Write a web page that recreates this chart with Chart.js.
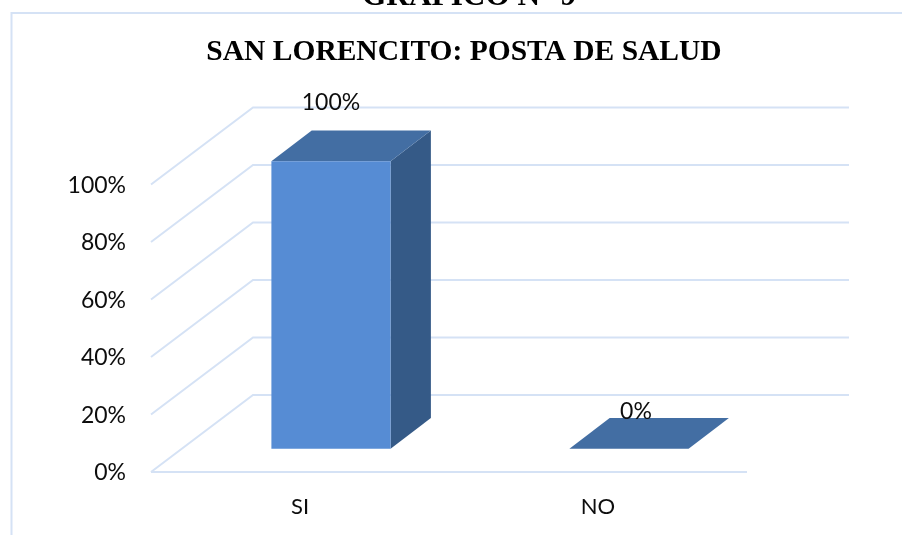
<!DOCTYPE html>
<html>
<head>
<meta charset="utf-8">
<style>
html,body{margin:0;padding:0;background:#fff;overflow:hidden;width:902px;height:535px}
#wrap{position:absolute;left:0;top:0;width:902px;height:535px}
#head{position:absolute;left:362px;top:-23px;font:bold 31.3px "Liberation Serif",serif;color:#000;white-space:nowrap;z-index:2}
</style>
<script src="https://cdn.jsdelivr.net/npm/chart.js@4/dist/chart.umd.min.js"></script>
</head>
<body>
<div id="head">GRAFICO N° 9</div>
<div id="wrap"><canvas id="c" width="902" height="535"></canvas></div>
<script>
const categories = ['SI', 'NO'];
const seriesValues = [100, 0];
const tickValues = [0, 20, 40, 60, 80, 100];
const chartTitle = 'SAN LORENCITO: POSTA DE SALUD';

const GRID = '#d5e2f5';
const DEPTH = {x: 102, y: -77};        // wall depth of the 3D box
const BAR_SHIFT = {x: 31, y: -23.3};   // bars sit part way into the floor
const BAR_DEPTH = {x: 40.3, y: -30.6};
const LABEL_OFFSET = [{x: 0, y: -59}, {x: 7, y: -37}];

function poly(ctx, pts, fill) {
  ctx.beginPath();
  pts.forEach((p, i) => i ? ctx.lineTo(p[0], p[1]) : ctx.moveTo(p[0], p[1]));
  ctx.closePath();
  ctx.fillStyle = fill;
  ctx.fill();
}

const box3d = {
  id: 'box3d',
  beforeDatasetsDraw(chart) {
    const ctx = chart.ctx, y = chart.scales.y, a = chart.chartArea;
    ctx.save();
    // outer frame of the chart
    ctx.strokeStyle = GRID;
    ctx.lineWidth = 2;
    ctx.beginPath();
    ctx.moveTo(11.5, 535); ctx.lineTo(11.5, 13); ctx.lineTo(902, 13);
    ctx.stroke();
    // walls and floor, from the value axis
    ctx.lineWidth = 2;
    tickValues.forEach(v => {
      const py = y.getPixelForValue(v);
      ctx.beginPath();
      ctx.moveTo(a.left, py);
      ctx.lineTo(a.left + DEPTH.x, py + DEPTH.y);
      ctx.lineTo(a.right + DEPTH.x, py + DEPTH.y);
      ctx.stroke();
    });
    const py0 = y.getPixelForValue(0);
    ctx.beginPath();
    ctx.moveTo(a.left, py0); ctx.lineTo(a.right, py0); ctx.stroke();
    // side and top faces of each bar
    chart.getDatasetMeta(0).data.forEach(el => {
      const l = el.x - el.width / 2 + BAR_SHIFT.x, r = el.x + el.width / 2 + BAR_SHIFT.x;
      const t = el.y + BAR_SHIFT.y, b = el.base + BAR_SHIFT.y;
      if (b - t > 0.5) {
        poly(ctx, [[r, t], [r + BAR_DEPTH.x, t + BAR_DEPTH.y], [r + BAR_DEPTH.x, b + BAR_DEPTH.y], [r, b]], '#355a87');
      }
      poly(ctx, [[l, t], [l + BAR_DEPTH.x, t + BAR_DEPTH.y], [r + BAR_DEPTH.x, t + BAR_DEPTH.y], [r, t]], '#436ea3');
    });
    ctx.restore();
    // the front faces are the library's own bars, moved onto the bar plane
    ctx.save();
    ctx.translate(BAR_SHIFT.x, BAR_SHIFT.y);
  },
  afterDatasetsDraw(chart) {
    const ctx = chart.ctx;
    ctx.restore();
    ctx.save();
    ctx.font = '23px Lato, sans-serif';
    ctx.fillStyle = '#0d0d0d';
    ctx.textAlign = 'center';
    ctx.textBaseline = 'middle';
    chart.getDatasetMeta(0).data.forEach((el, i) => {
      ctx.fillText(seriesValues[i] + '%',
        el.x + BAR_SHIFT.x + LABEL_OFFSET[i].x,
        el.y + BAR_SHIFT.y + LABEL_OFFSET[i].y);
    });
    ctx.restore();
  }
};

new Chart(document.getElementById('c'), {
  type: 'bar',
  data: {
    labels: categories,
    datasets: [{
      data: seriesValues,
      backgroundColor: '#568cd4',
      borderWidth: 0,
      barPercentage: 0.5,
      categoryPercentage: 0.8,
      clip: false
    }]
  },
  plugins: [box3d],
  options: {
    responsive: false,
    animation: false,
    events: [],
    layout: {padding: {left: 26, right: 0, top: 0, bottom: 0}},
    plugins: {
      legend: {display: false},
      tooltip: {enabled: false},
      title: {
        display: true,
        text: chartTitle,
        color: '#000',
        font: {family: '"Liberation Serif", serif', size: 29.5, weight: 'bold', lineHeight: 1.2},
        padding: {top: 35, bottom: 114.1}
      }
    },
    scales: {
      x: {
        grid: {display: false},
        border: {display: false},
        ticks: {color: '#0d0d0d', font: {family: 'Lato, sans-serif', size: 22}, padding: 14, maxRotation: 0},
        afterFit(s) { s.height = 63; }
      },
      y: {
        min: 0, max: 100,
        grid: {display: false},
        border: {display: false},
        ticks: {
          stepSize: 20,
          color: '#0d0d0d',
          font: {family: 'Lato, sans-serif', size: 23},
          padding: 17,
          labelOffset: 1,
          callback: v => v + '%'
        },
        afterFit(s) { s.width = 125; }
      },
      pad: {
        position: 'right',
        display: true,
        grid: {display: false},
        border: {display: false},
        ticks: {display: false},
        afterFit(s) { s.width = 155; }
      }
    }
  }
});
</script>
</body>
</html>
